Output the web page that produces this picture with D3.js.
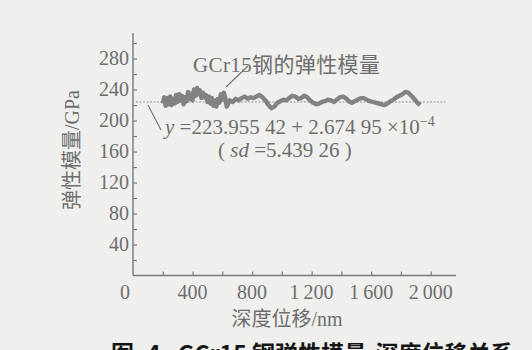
<!DOCTYPE html>
<html>
<head>
<meta charset="utf-8">
<script src="https://cdn.jsdelivr.net/npm/d3@7"></script>
<style>
  html, body { margin: 0; padding: 0; background: #efefed; }
  svg { display: block; }
  text { font-family: "Liberation Serif", "Noto Sans CJK SC", serif; fill: #6e6e6e; }
</style>
</head>
<body>
<svg id="chart" width="532" height="350"></svg>
<script>
// Depth displacement (nm) and elastic modulus (GPa) of GCr15 steel
const depth = [
  200, 210, 220, 230, 240, 250, 260, 270, 280, 290,
  300, 310, 320, 330, 340, 350, 360, 370, 380, 390,
  400, 410, 420, 430, 440, 450, 460, 470, 480, 490,
  500, 510, 520, 530, 540, 550, 560, 570, 580, 590,
  600, 610, 620, 630, 650, 670, 690, 710, 730, 750,
  770, 790, 810, 830, 850, 870, 890, 910, 930, 950,
  970, 990, 1010, 1030, 1050, 1070, 1090, 1110, 1130, 1150,
  1170, 1190, 1210, 1230, 1250, 1270, 1290, 1310, 1330, 1350,
  1370, 1390, 1410, 1430, 1450, 1470, 1490, 1510, 1530, 1550,
  1570, 1590, 1610, 1630, 1650, 1670, 1690, 1710, 1730, 1750,
  1770, 1790, 1810, 1830, 1850, 1870, 1890, 1910, 1930
];
const modulus = [
  222, 230, 219, 229, 221, 231, 220, 228, 222, 233,
  224, 234, 226, 232, 221, 230, 225, 237, 228, 235,
  226, 240, 232, 242, 234, 239, 229, 236, 230, 233,
  224, 231, 222, 229, 219, 226, 218, 228, 223, 234,
  227, 236, 229, 218, 226, 224, 228, 226, 229, 231,
  228, 230, 229, 231, 233, 230, 226, 220, 216, 218,
  223, 225, 227, 226, 229, 232, 231, 228, 229, 232,
  230, 226, 223, 221, 222, 224, 225, 227, 226, 224,
  227, 230, 231, 229, 225, 223, 225, 227, 229, 229,
  227, 225, 224, 223, 222, 221, 220, 222, 225, 227,
  230, 232, 234, 237, 236, 232, 228, 223, 220
];

// Fitted mean line and its annotation
const fitValue = 223.95542;
const seriesLabel = "GCr15钢的弹性模量";
const equationMain = "=223.955 42+2.674 95×10";
const equationExp = "−4";
const sdText = "sd";
const sdValue = "=5.439 26";

// Axis ticks
const xTicks = [200, 400, 600, 800, 1000, 1200, 1400, 1600, 1800, 2000];
const xTickLabels = [0, 400, 800, 1200, 1600, 2000];
const yTicks = [20, 40, 60, 80, 100, 120, 140, 160, 180, 200, 220, 240, 260, 280, 300];
const yTickLabels = [40, 80, 120, 160, 200, 240, 280];

const xTitle = "深度位移/nm";
const yTitle = "弹性模量/GPa";
const caption = ["图", "4", "GCr15 钢弹性模量-深度位移关系"];

const svg = d3.select("#chart");
const axisColor = "#7a7a7a";

const x = d3.scaleLinear().domain([0, 2170]).range([133, 456]);
const y = d3.scaleLinear().domain([0, 313]).range([275.5, 33]);

const fmt = v => {
  const s = String(v);
  return s.length > 3 ? s.slice(0, s.length - 3) + "\u2009" + s.slice(-3) : s;
};

// Axes with inward ticks
const xAxis = svg.append("g").attr("transform", `translate(0,${y(0)})`)
  .call(d3.axisTop(x).tickValues(xTicks).tickSize(4).tickFormat(""));
const yAxis = svg.append("g").attr("transform", `translate(${x(0)},0)`)
  .call(d3.axisRight(y).tickValues(yTicks).tickSize(4).tickFormat(""));
[xAxis, yAxis].forEach(g => {
  g.select(".domain").attr("stroke", axisColor).attr("stroke-width", 1.4);
  g.selectAll(".tick line").attr("stroke", axisColor).attr("stroke-width", 1.2);
});
xAxis.select(".domain").attr("d", `M${x(0)},0H${x(2170)}`);
yAxis.select(".domain").attr("d", `M0,${y(313)}V${y(0)}`);

// Tick labels
svg.append("g").selectAll("text").data(xTickLabels).join("text")
  .attr("x", d => d === 0 ? x(0) - 8 : x(d))
  .attr("y", 299)
  .attr("text-anchor", "middle")
  .attr("font-size", 20)
  .text(fmt);
svg.append("g").selectAll("text").data(yTickLabels).join("text")
  .attr("x", x(0) - 4)
  .attr("y", d => y(d) + 6.5)
  .attr("text-anchor", "end")
  .attr("font-size", 20)
  .text(d => d);

// Axis titles
svg.append("text")
  .attr("x", 287).attr("y", 326)
  .attr("text-anchor", "middle")
  .attr("font-size", 20)
  .text(xTitle);
svg.append("text")
  .attr("transform", `translate(79,150) rotate(-90)`)
  .attr("text-anchor", "middle")
  .attr("font-size", 20)
  .text(yTitle);

// Dashed fitted line
svg.append("line")
  .attr("x1", x(20)).attr("x2", x(2100))
  .attr("y1", y(fitValue)).attr("y2", y(fitValue))
  .attr("stroke", "#8a8a8a").attr("stroke-width", 0.9)
  .attr("stroke-dasharray", "2,1.5");

// Modulus curve
const pts = depth.map((d, i) => [d, modulus[i]]);
svg.append("path")
  .datum(pts)
  .attr("fill", "none")
  .attr("stroke", "#828282")
  .attr("stroke-width", 4.4)
  .attr("stroke-linejoin", "round")
  .attr("d", d3.line().x(d => x(d[0])).y(d => y(d[1])));

// Leader lines
svg.append("line")
  .attr("x1", 248).attr("y1", 66).attr("x2", 226).attr("y2", 87)
  .attr("stroke", "#707070").attr("stroke-width", 1.1);
svg.append("line")
  .attr("x1", 148).attr("y1", 105).attr("x2", 161).attr("y2", 130)
  .attr("stroke", "#707070").attr("stroke-width", 1.1);

// Series label
svg.append("text")
  .attr("x", 193).attr("y", 72)
  .attr("font-size", 21)
  .attr("textLength", 187)
  .attr("lengthAdjust", "spacing")
  .text(seriesLabel);

// Regression equation
const eq = svg.append("text")
  .attr("x", 165).attr("y", 134)
  .attr("font-size", 21);
eq.append("tspan").attr("font-style", "italic").text("y");
eq.append("tspan").text(" " + equationMain.replace("+", " + ").replace("×", " ×"));
eq.append("tspan").attr("font-size", 14).attr("dy", -8).text(equationExp);

const sd = svg.append("text")
  .attr("x", 218).attr("y", 157)
  .attr("font-size", 21);
sd.append("tspan").text("( ");
sd.append("tspan").attr("font-style", "italic").text(sdText);
sd.append("tspan").text(" " + sdValue + " )");

// Figure caption, mostly below the bottom edge
const cap = svg.append("text")
  .attr("y", 362)
  .attr("font-size", 23)
  .attr("font-weight", "bold")
  .style("font-family", "'Noto Sans CJK SC', sans-serif")
  .style("fill", "#151515");
cap.append("tspan").attr("x", 111).text(caption[0]);
cap.append("tspan").attr("x", 147).text(caption[1]);
cap.append("tspan").attr("x", 178).text(caption[2]);
</script>
</body>
</html>
